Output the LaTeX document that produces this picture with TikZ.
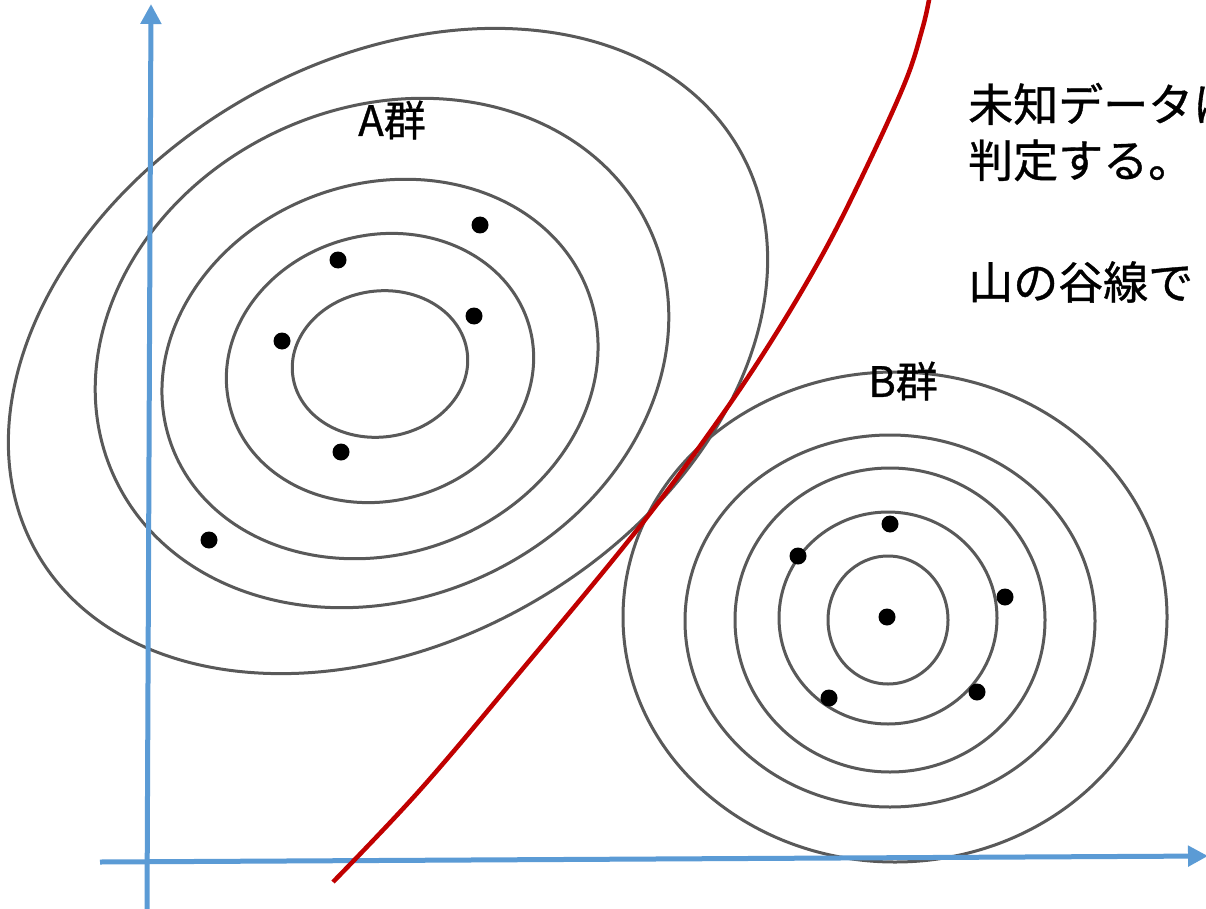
\documentclass[tikz,border=0pt]{standalone}
\usepackage{fontspec}
\setmainfont{Noto Sans CJK JP}
\newfontfamily\jpfont{Noto Sans CJK JP}[FakeBold=0.8]
\usetikzlibrary{arrows.meta}
\definecolor{axisblue}{HTML}{5B9BD5}
\definecolor{ringgrey}{HTML}{595959}
\definecolor{bordred}{HTML}{C00000}
\tikzset{
  ring/.style={draw=ringgrey, line width=3pt},
  axis/.style={draw=axisblue, line width=5pt, -{Triangle[length=20pt,width=20pt]}},
  border/.style={draw=bordred, line width=4.5pt},
  dot/.style={fill=black},
  lbl/.style={font=\jpfont\fontsize{42pt}{44pt}\selectfont, inner sep=0pt},
  txt/.style={font=\jpfont\fontsize{45pt}{56pt}\selectfont, inner sep=0pt, anchor=west, align=left},
}
\begin{document}
\begin{tikzpicture}[x=1pt,y=-1pt]
\useasboundingbox (0,0) rectangle (1206,909);
\clip (0,0) rectangle (1206,909);
\fill[white] (0,0) rectangle (1206,909);
% A group rings
\draw[ring, rotate around={8:(380,364)}] (380,364) ellipse [x radius=88, y radius=73];
\draw[ring, rotate around={15:(380,368)}] (380,368) ellipse [x radius=155, y radius=133];
\draw[ring, rotate around={20:(380,369)}] (380,369) ellipse [x radius=222, y radius=185];
\draw[ring, rotate around={25:(382,353)}] (382,353) ellipse [x radius=295, y radius=245];
\draw[ring, rotate around={30:(388,351)}] (388,351) ellipse [x radius=405, y radius=290];
% B group rings
\draw[ring] (888,620) ellipse [x radius=60, y radius=64];
\draw[ring] (888,618) ellipse [x radius=109, y radius=106];
\draw[ring] (890,620) ellipse [x radius=155, y radius=152];
\draw[ring] (890,621) ellipse [x radius=205, y radius=186];
\draw[ring] (895,617) ellipse [x radius=272, y radius=245];
% dots
\foreach \p in {(480,225),(338,260),(474,316),(282,341),(341,452),(209,540),
                (890,524),(798,556),(1005,597),(887,617),(829,698),(977,692)}
  \fill[dot] \p circle[radius=8.5pt];
% axes
\coordinate (yb) at (147,909);
\coordinate (yt) at (151,4);
\coordinate (xl) at (100,862);
\coordinate (xr) at (1208,856);
\draw[axis] (yb) -- (yt);
\draw[axis] (xl) -- (xr);
% border curve
\draw[border] plot[smooth, tension=0.6] coordinates {(333,882) (420,790) (520,672) (637,530) (715,425) (772,340) (825,250) (870,160) (906,80) (922,30) (929,0) (931,-15)};
% labels
\node[lbl] (A) at (392,120) {A群};
\node[lbl] (B) at (903,381) {B群};
\node[txt] (t1) at (968,132) {未知データは\\判定する。};
\node[txt] (t2) at (968,282) {山の谷線で};
\node[txt] (t3) at (1203,486) {出};
\end{tikzpicture}
\end{document}
